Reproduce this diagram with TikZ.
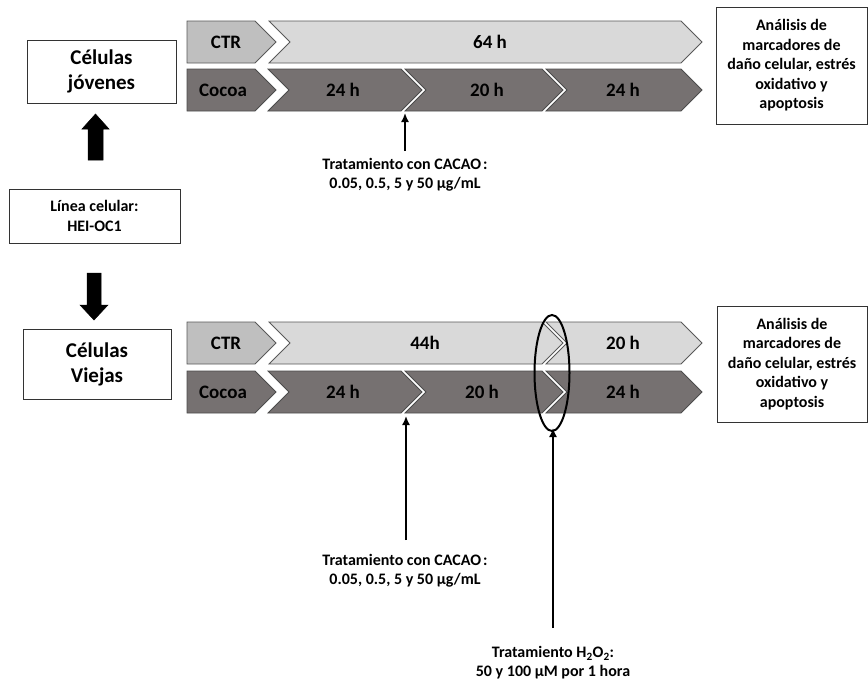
\documentclass[tikz,border=0pt]{standalone}
\usepackage{fontspec}
\setmainfont{Carlito}
\definecolor{ctrg}{HTML}{BFBFBF}
\definecolor{lightg}{HTML}{D9D9D9}
\definecolor{darkg}{HTML}{767171}
\definecolor{outl}{HTML}{595959}
\definecolor{boxline}{HTML}{333333}
\tikzset{
  box/.style={draw=boxline, line width=1pt, align=center, inner sep=0pt, font=\bfseries},
  lbl/.style={font=\fontsize{19}{23}\selectfont\bfseries, inner sep=0pt},
  ptxt/.style={font=\fontsize{16}{19}\selectfont\bfseries, align=center, inner sep=0pt},
  chevctr/.style={fill=ctrg, draw=outl, line width=0.8pt, line join=miter},
  chevlight/.style={fill=lightg, draw=outl, line width=0.8pt, line join=miter},
  chevdark/.style={fill=darkg, draw=black!70, line width=0.8pt, line join=miter},
  thinarrow/.style={-{Latex[length=9pt,width=8pt]}, line width=1.6pt},
  blockarrow/.style={fill=black, draw=black, line width=0.5pt}
}
\usetikzlibrary{arrows.meta}
\begin{document}
\begin{tikzpicture}[x=1pt,y=-1pt]
\useasboundingbox (0,0) rectangle (868,681);

% ---------- top section ----------
\draw[chevctr] (187,21)--(255,21)--(276,42)--(255,63)--(187,63)--cycle;
\draw[chevlight] (269,21)--(681,21)--(702,42)--(681,63)--(269,63)--(290,42)--cycle;
\draw[chevdark] (187,69)--(255,69)--(276,90)--(255,111)--(187,111)--cycle;
\draw[chevdark] (268,69)--(401,69)--(422,90)--(401,111)--(268,111)--(289,90)--cycle;
\draw[chevdark] (405,69)--(542,69)--(563,90)--(542,111)--(405,111)--(426,90)--cycle;
\draw[chevdark] (546,69)--(681,69)--(702,90)--(681,111)--(546,111)--(567,90)--cycle;

\node[lbl] (tctr) at (226,42) {CTR};
\node[lbl] (t64) at (490,42) {64 h};
\node[lbl] (tcocoa) at (223,90) {Cocoa};
\node[lbl] (t24a) at (343,90) {24 h};
\node[lbl] (t20a) at (487,90) {20 h};
\node[lbl] (t24b) at (623,90) {24 h};

% ---------- bottom section ----------
\draw[chevctr] (187,322)--(255,322)--(276,343)--(255,364)--(187,364)--cycle;
\draw[chevlight] (269,322)--(542,322)--(563,343)--(542,364)--(269,364)--(290,343)--cycle;
\draw[chevlight] (546,322)--(681,322)--(702,343)--(681,364)--(546,364)--(567,343)--cycle;
\draw[chevdark] (187,371)--(255,371)--(276,392)--(255,413)--(187,413)--cycle;
\draw[chevdark] (268,371)--(401,371)--(422,392)--(401,413)--(268,413)--(289,392)--cycle;
\draw[chevdark] (405,371)--(542,371)--(563,392)--(542,413)--(405,413)--(426,392)--cycle;
\draw[chevdark] (546,371)--(681,371)--(702,392)--(681,413)--(546,413)--(567,392)--cycle;

\node[lbl] (bctr) at (226,343) {CTR};
\node[lbl] (b44) at (425,343) {44h};
\node[lbl] (b20) at (623,343) {20 h};
\node[lbl] (bcocoa) at (223,392) {Cocoa};
\node[lbl] (b24a) at (343,392) {24 h};
\node[lbl] (b20a) at (482,392) {20 h};
\node[lbl] (b24b) at (623,392) {24 h};

\draw[line width=2pt] (552,373) ellipse [x radius=17.5, y radius=58];

% ---------- left boxes ----------
\node[box, minimum width=149pt, minimum height=63pt, font=\fontsize{21}{25}\selectfont\bfseries] (young) at (101.5,71.5) {Células\\jóvenes};
\node[box, minimum width=171pt, minimum height=54pt, font=\fontsize{16}{20}\selectfont\bfseries] (line) at (94.5,216) {Línea celular:\\HEI-OC1};
\node[box, minimum width=148pt, minimum height=70pt, font=\fontsize{21}{25}\selectfont\bfseries] (old) at (97,364) {Células\\Viejas};

% block arrows
\draw[blockarrow] (88,160)--(88,129)--(82,129)--(95.5,114)--(109,129)--(103,129)--(103,160)--cycle;
\draw[blockarrow] (87,273)--(87,305)--(80,305)--(94,320)--(108,305)--(101,305)--(101,273)--cycle;

% ---------- right boxes ----------
\node[box, minimum width=151pt, minimum height=117pt, font=\fontsize{16}{19.5}\selectfont\bfseries] (ana1) at (791.5,65.5) {Análisis de\\marcadores de\\daño celular, estrés\\oxidativo y\\apoptosis};
\node[box, minimum width=150pt, minimum height=116pt, font=\fontsize{16}{19.5}\selectfont\bfseries] (ana2) at (792,364) {Análisis de\\marcadores de\\daño celular, estrés\\oxidativo y\\apoptosis};

% ---------- treatment arrows ----------
\coordinate (tipA) at (405,113);
\coordinate (tailA) at (405,151);
\draw[thinarrow] (tailA) -- (tipA);
\node[ptxt] (cacao1) at (405,175) {Tratamiento con CACAO\kern2pt:\\0.05, 0.5, 5 y 50 µg/mL};

\coordinate (tipB) at (406,416);
\coordinate (tailB) at (406,540);
\draw[thinarrow] (tailB) -- (tipB);
\node[ptxt] (cacao2) at (405,571) {Tratamiento con CACAO\kern2pt:\\0.05, 0.5, 5 y 50 µg/mL};

\coordinate (tipC) at (553,428);
\coordinate (tailC) at (553,628);
\draw[thinarrow] (tailC) -- (tipC);
\node[ptxt] (h2o2) at (553,663) {Tratamiento H\textsubscript{2}O\textsubscript{2}:\\50 y 100 µM por 1 hora};
\end{tikzpicture}
\end{document}
